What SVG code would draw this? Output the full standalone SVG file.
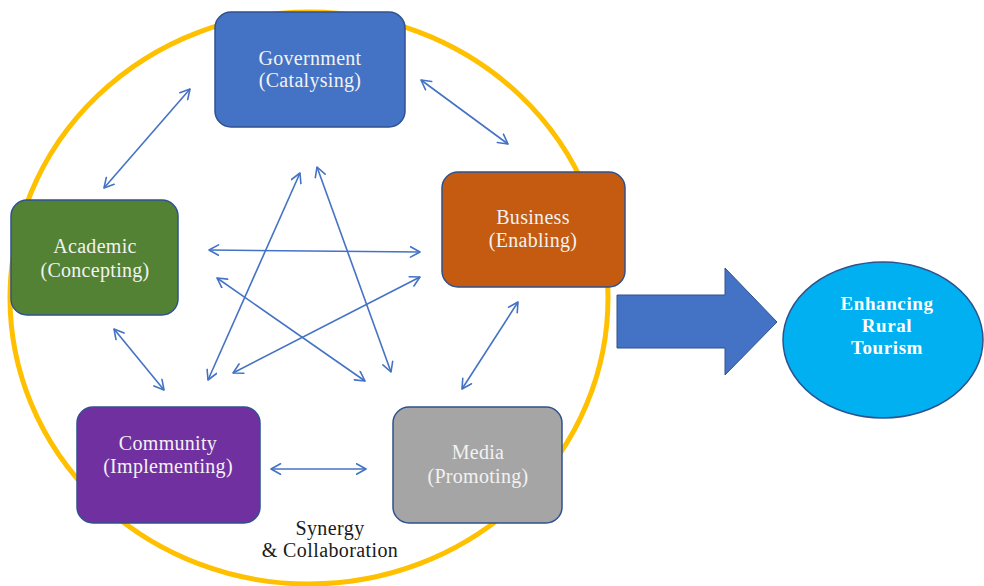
<svg xmlns="http://www.w3.org/2000/svg" width="984" height="586" viewBox="0 0 984 586">
<defs>
<marker id="ah" viewBox="0 0 12 12" refX="10.5" refY="6" markerWidth="12" markerHeight="12" markerUnits="userSpaceOnUse" orient="auto-start-reverse">
<path d="M1,0.8 L10.5,6 L1,11.2" fill="none" stroke="#4472C4" stroke-width="1.6" stroke-linecap="round" stroke-linejoin="round"/>
</marker>
</defs>
<style>
.box{stroke:#2F528F;stroke-width:1.5}
.lbl{font-family:"Liberation Serif","Times New Roman",serif;font-size:20px;fill:#F2F2F2;text-anchor:middle;letter-spacing:0.3px}
.conn line{stroke:#4472C4;stroke-width:1.6;marker-start:url(#ah);marker-end:url(#ah)}
.syn{font-family:"Liberation Serif","Times New Roman",serif;font-size:20px;fill:#1a1a1a;text-anchor:middle;letter-spacing:0.4px}
.goal{font-family:"Liberation Serif","Times New Roman",serif;font-size:19px;font-weight:bold;fill:#FFFFFF;text-anchor:middle;letter-spacing:0.6px}
</style>
<rect width="984" height="586" fill="#FFFFFF"/>
<g id="ring">
<ellipse cx="309" cy="298" rx="299" ry="286" fill="none" stroke="#FFC000" stroke-width="5"/>
</g>
<g id="government">
<rect class="box" x="215" y="12" width="190" height="115" rx="16" fill="#4472C4"/>
<text class="lbl" x="310" y="65">Government</text>
<text class="lbl" x="310" y="87">(Catalysing)</text>
</g>
<g id="business">
<rect class="box" x="442" y="172" width="183" height="115" rx="16" fill="#C55A11"/>
<text class="lbl" x="533" y="224">Business</text>
<text class="lbl" x="533" y="247">(Enabling)</text>
</g>
<g id="academic">
<rect class="box" x="11" y="200" width="167" height="115" rx="16" fill="#548235"/>
<text class="lbl" x="95" y="253">Academic</text>
<text class="lbl" x="95" y="277">(Concepting)</text>
</g>
<g id="community">
<rect class="box" x="77" y="407" width="183" height="116" rx="16" fill="#7030A0"/>
<text class="lbl" x="168" y="450">Community</text>
<text class="lbl" x="168" y="473">(Implementing)</text>
</g>
<g id="media">
<rect class="box" x="393" y="407" width="169" height="116" rx="16" fill="#A5A5A5"/>
<text class="lbl" x="478" y="459">Media</text>
<text class="lbl" x="478" y="483">(Promoting)</text>
</g>
<g id="synergy-label">
<text class="syn" x="330" y="535">Synergy</text>
<text class="syn" x="330" y="557">&amp; Collaboration</text>
</g>
<g id="big-arrow">
<polygon points="617,295 725,295 725,268 777,322 725,375 725,348 617,348" fill="#4472C4" stroke="#2F528F" stroke-width="1"/>
</g>
<g id="enhancing-rural-tourism">
<ellipse cx="883" cy="340" rx="100" ry="78" fill="#00B0F0" stroke="#2F528F" stroke-width="1.5"/>
<text class="goal" x="887" y="310">Enhancing</text>
<text class="goal" x="887" y="332">Rural</text>
<text class="goal" x="887" y="354">Tourism</text>
</g>
<g id="connectors" class="conn">
<line x1="421" y1="80" x2="508" y2="144"/>
<line x1="190" y1="89" x2="104" y2="188"/>
<line x1="114" y1="329" x2="164" y2="390"/>
<line x1="271" y1="469" x2="366" y2="469"/>
<line x1="518" y1="302" x2="462" y2="389"/>
<line x1="209" y1="250" x2="420" y2="252"/>
<line x1="217" y1="278" x2="365" y2="381"/>
<line x1="233" y1="373" x2="420" y2="277"/>
<line x1="208" y1="380" x2="300" y2="173"/>
<line x1="317" y1="167" x2="391" y2="372"/>
</g>
</svg>
